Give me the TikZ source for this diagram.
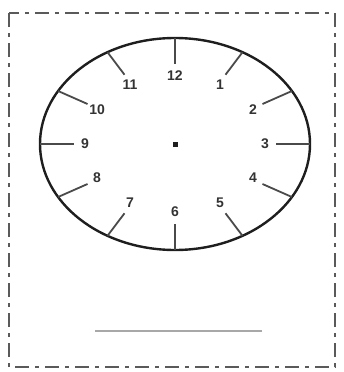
\documentclass[tikz,border=0pt]{standalone}
\usepackage{fontspec}
\setmainfont{Liberation Sans}
\usepackage{tikz}
\usetikzlibrary{positioning,calc}
\definecolor{Frame}{HTML}{5A5A5A}
\definecolor{Dial}{HTML}{1E1E1E}
\definecolor{Tick}{HTML}{4A4A4A}
\definecolor{Digit}{HTML}{333333}
\definecolor{Answer}{HTML}{A8A8A8}

\tikzset{
	digit/.style={
		inner sep=0pt,
		text=Digit,
		font=\fontsize{14}{14}\selectfont\bfseries
	},
	tickline/.style={draw=Tick, line width=1.8pt}
}

\begin{document}
\begin{tikzpicture}[x=1pt,y=-1pt]
			\useasboundingbox (0,0) rectangle (343,372);
			\draw[
			Frame,
			line width=2.8pt,
			dash pattern=on 14pt off 6pt on 4pt off 6pt
			] (9,13) rectangle (335,367);
			
			\coordinate (centre) at (175,144);
			\draw[Dial, line width=2.4pt] (centre) ellipse [x radius=135, y radius=106];
			\fill[Dial] ($(centre)+(-2.5,-2.5)$) rectangle ($(centre)+(2.5,2.5)$);
			
			\foreach \h in {1,...,12}{
				\pgfmathsetmacro{\ang}{90-30*\h}
				\coordinate (out\h) at ($(centre)+({135*cos(\ang)},{-106*sin(\ang)})$);
				\coordinate (in\h) at ($(centre)+({101*cos(\ang)},{-80*sin(\ang)})$);
				\draw[tickline] (out\h) -- (in\h);
				\node[digit] (n\h) at ($(centre)+({90*cos(\ang)},{-68*sin(\ang)})$) {\h};
			}
			
			\coordinate (lineL) at (95,331);
			\coordinate (lineR) at (262,331);
			\draw[Answer, line width=2.4pt] (lineL) -- (lineR);
		\end{tikzpicture}
\end{document}
